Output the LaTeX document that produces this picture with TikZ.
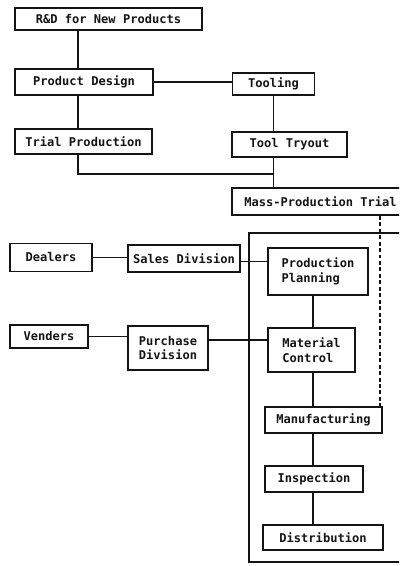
\documentclass[tikz,border=0pt]{standalone}
\usepackage{fontspec}
\setmonofont{DejaVu Sans Mono}
\usepackage{xcolor}
\definecolor{flink}{HTML}{141414}
\usepackage{tikz}
\usetikzlibrary{positioning}
\tikzset{
  flbox/.style ={rectangle, draw=flink, line width=1.3pt, fill=white,
                 inner sep=1pt, align=left, text=flink,
                 font=\ttfamily\bfseries\fontsize{12.1}{15}\selectfont},
  flline/.style={draw=flink, line width=1.1pt},
  fldash/.style={draw=flink, line width=1.1pt, dash pattern=on 4pt off 2.5pt},
}

\begin{document}
\begin{tikzpicture}[x=1bp, y=-1bp]
  \useasboundingbox (0,0) rectangle (399,566);
  \clip (0,0) rectangle (399,566);
  % plant frame, runs off the right edge
  \draw[flline, line width=1.2pt] (249,233) rectangle (430,562);
  % development chain
  \node[flbox, minimum width=187bp, minimum height=22bp] (rnd)    at (108.5,19)  {R\&D for New Products};
  \node[flbox, minimum width=138bp, minimum height=26bp] (design) at (84,82)     {Product Design};
  \node[flbox, minimum width=82bp,  minimum height=22bp] (tooling) at (273.5,84) {Tooling};
  \node[flbox, minimum width=137bp, minimum height=25bp] (trial)  at (83.5,141.5) {Trial Production};
  \node[flbox, minimum width=115bp, minimum height=25bp] (tryout) at (289.5,144.5) {Tool Tryout};
  \node[flbox, minimum width=177bp, minimum height=27bp] (mass)   at (320.5,201.5) {Mass-Production Trial};
  % outside parties and divisions
  \node[flbox, minimum width=82bp,  minimum height=28bp] (dealers)  at (51,257.5)  {Dealers};
  \node[flbox, minimum width=112bp, minimum height=27bp] (sales)    at (184,258.5) {Sales Division};
  \node[flbox, minimum width=78bp,  minimum height=23bp] (venders)  at (49,336.5)  {Venders};
  \node[flbox, minimum width=80bp,  minimum height=44bp] (purchase) at (168,348)   {Purchase\\Division};
  % inside the plant
  \node[flbox, minimum width=100bp, minimum height=47bp] (planning) at (318,271.5) {Production\\Planning};
  \node[flbox, minimum width=87bp,  minimum height=44bp] (material) at (311.5,350) {Material\\Control};
  \node[flbox, minimum width=117bp, minimum height=26bp] (manuf)    at (323.5,420) {Manufacturing};
  \node[flbox, minimum width=98bp,  minimum height=26bp] (insp)     at (314,479)   {Inspection};
  \node[flbox, minimum width=120bp, minimum height=25bp] (distr)    at (323,537.5) {Distribution};

  \coordinate (lx) at (78,0);
  \coordinate (sx) at (313,0);
  \coordinate (dx) at (380,0);
  \coordinate (jn) at (273.5,174);
  \coordinate (py) at (0,340);

  \draw[flline] (rnd.south -| lx) -- (design.north -| lx);
  \draw[flline] (design.south -| lx) -- (trial.north -| lx);
  \draw[flline] (design.east) -- (design.east -| tooling.west);
  \draw[flline] (tooling.south) -- (tooling.south |- tryout.north);
  \draw[flline] (trial.south -| lx) |- (jn);
  \draw[flline] (tryout.south -| jn) -- (mass.north -| jn);
  \draw[fldash] (mass.south -| dx) -- (manuf.north -| dx);

  \draw[flline] (dealers.east) -- (dealers.east -| sales.west);
  \draw[flline] ([yshift=-3bp]sales.east) -- ([yshift=-3bp]sales.east -| planning.west);
  \draw[flline] (venders.east) -- (venders.east -| purchase.west);
  \draw[flline] (purchase.east |- py) -- (material.west |- py);

  \draw[flline] (planning.south -| sx) -- (material.north -| sx);
  \draw[flline] (material.south -| sx) -- (manuf.north -| sx);
  \draw[flline] (manuf.south -| sx) -- (insp.north -| sx);
  \draw[flline] (insp.south -| sx) -- (distr.north -| sx);
\end{tikzpicture}
\end{document}
